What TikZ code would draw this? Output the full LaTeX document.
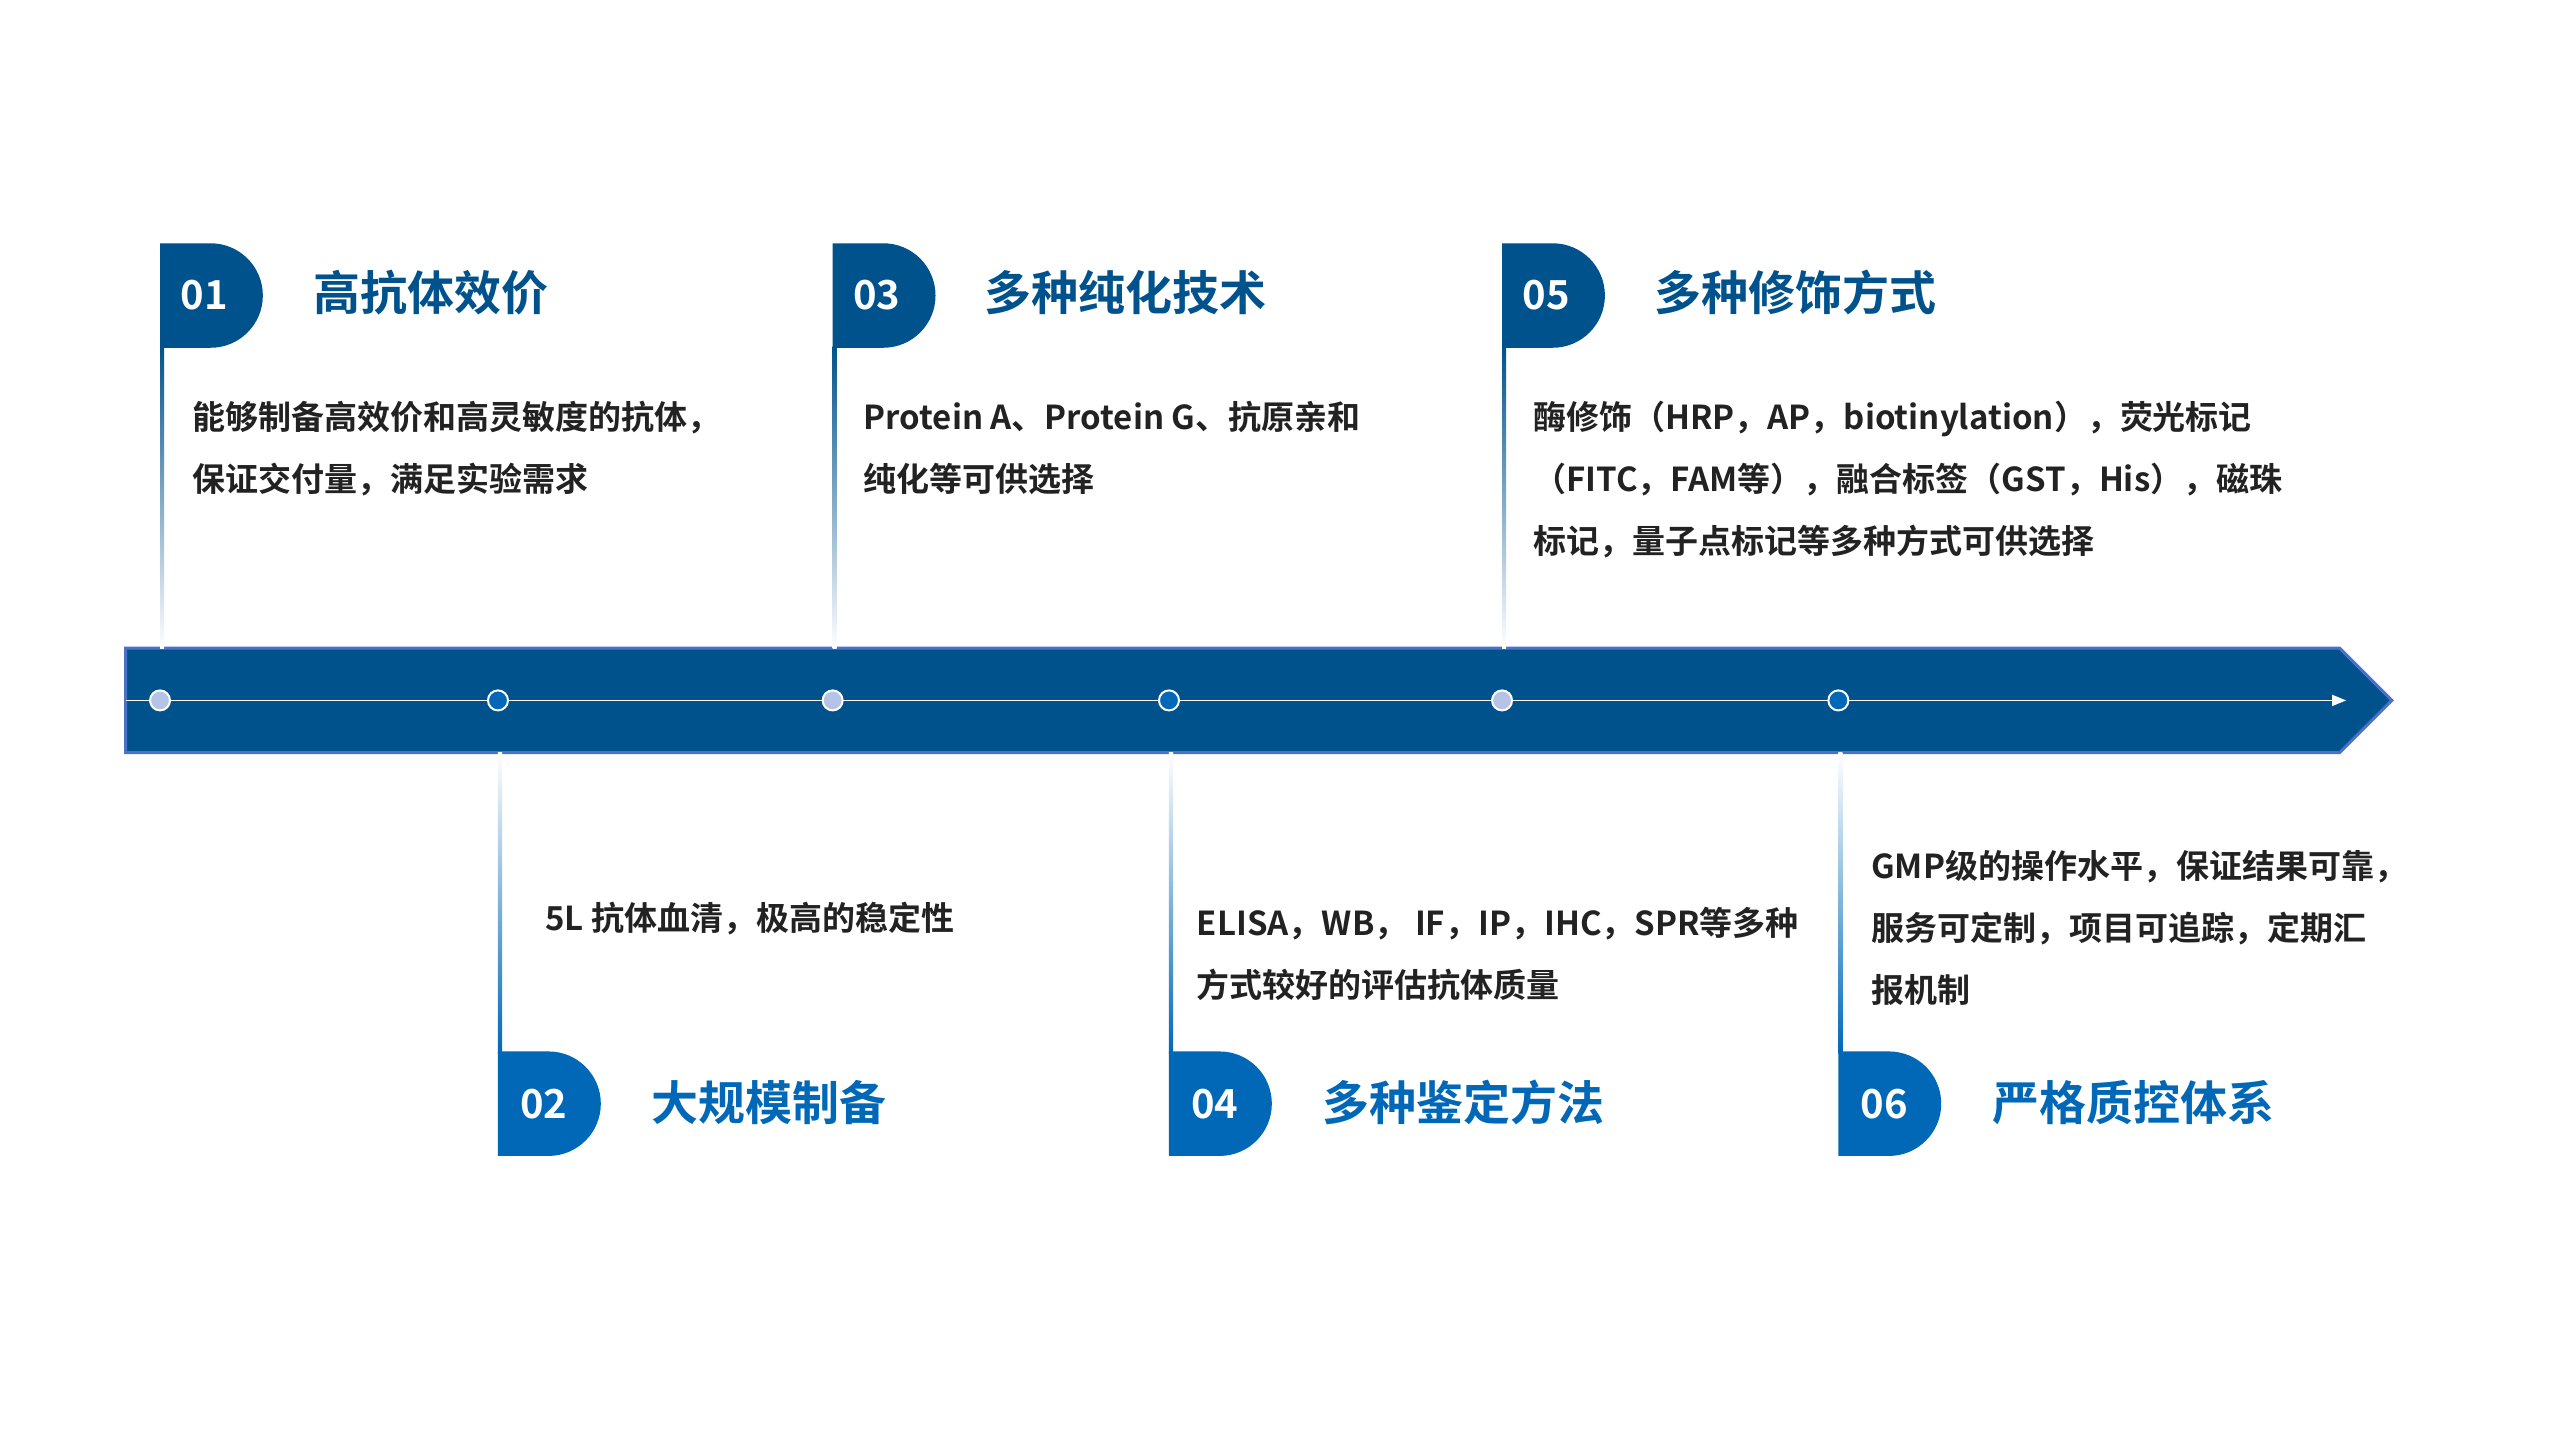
\documentclass[tikz,border=0pt]{standalone}
\usepackage{fontspec}
\setmainfont{Noto Sans CJK SC}[BoldFont={* Bold}]
\usetikzlibrary{arrows.meta}
\definecolor{dk}{HTML}{00528C}
\definecolor{br}{HTML}{0068B7}
\definecolor{edge}{HTML}{4A72C8}
\definecolor{lt}{HTML}{B4C3E6}
\definecolor{txt}{HTML}{222222}
\tikzset{
  num/.style={text=white,font=\bfseries\fontsize{40}{40}\selectfont,anchor=center},
  ttl/.style={font=\bfseries\fontsize{47}{47}\selectfont,anchor=base west},
  body/.style={text=txt,font=\bfseries\fontsize{33}{62}\selectfont,align=left,anchor=base west,inner sep=0pt},
  dot/.style={circle,draw=white,line width=2pt,minimum size=20pt,inner sep=0pt},
}
\begin{document}
\begin{tikzpicture}[x=1.6327pt,y=-1.6327pt]
\useasboundingbox (0,0) rectangle (1568,882);
% band
\draw[edge,line width=3pt,fill=dk] (77,397) -- (1433,397) -- (1465,429) -- (1433,461) -- (77,461) -- cycle;
\coordinate (ls) at (77,429);
\coordinate (le) at (1437,429);
\draw[white,line width=1.6pt,-{Triangle[length=14pt,width=11pt]}] (ls) -- (le);
% top items
\foreach \x/\n in {98/01,510/03,920/05}{
  \shade[top color=dk,bottom color=white] (\x,212) rectangle (\x+2.5,397);
  \fill[dk] (\x,149) -- (\x+31,149) arc[start angle=-90,end angle=90,radius=32] -- (\x,213) -- cycle;
  \node[num] (n\n) at (\x+27,181) {\n};
}
% bottom items
\foreach \x/\n in {305/02,716/04,1126/06}{
  \shade[top color=white,bottom color=br] (\x,461) rectangle (\x+2.5,645);
  \fill[br] (\x,644) -- (\x+31,644) arc[start angle=-90,end angle=90,radius=32] -- (\x,708) -- cycle;
  \node[num] (n\n) at (\x+28,676) {\n};
}
% dots
\foreach \x/\c [count=\i] in {98/lt,305/br,510/lt,716/br,920/lt,1126/br}
  \node[dot,fill=\c] (d\i) at (\x,429) {};
% titles
\node[ttl,text=dk] (t1) at (190,190) {高抗体效价};
\node[ttl,text=dk] (t3) at (601,190) {多种纯化技术};
\node[ttl,text=dk] (t5) at (1011,190) {多种修饰方式};
\node[ttl,text=br] (t2) at (397,686) {大规模制备};
\node[ttl,text=br] (t4) at (808,686) {多种鉴定方法};
\node[ttl,text=br] (t6) at (1218,686) {严格质控体系};
% bodies
\node[body] (b1) at (118,301) {能够制备高效价和高灵敏度的抗体，\\保证交付量，满足实验需求};
\node[body] (b3) at (529,301) {Protein A、Protein G、抗原亲和\\纯化等可供选择};
\node[body] (b5) at (939,339) {酶修饰（HRP，AP，biotinylation），荧光标记\\（FITC，FAM等），融合标签（GST，His），磁珠\\标记，量子点标记等多种方式可供选择};
\node[body] (b2) at (334,570) {5L 抗体血清，极高的稳定性};
\node[body] (b4) at (733,611) {ELISA，WB， IF，IP，IHC，SPR等多种\\方式较好的评估抗体质量};
\node[body] (b6) at (1146,614) {GMP级的操作水平，保证结果可靠，\\服务可定制，项目可追踪，定期汇\\报机制};
\end{tikzpicture}
\end{document}
